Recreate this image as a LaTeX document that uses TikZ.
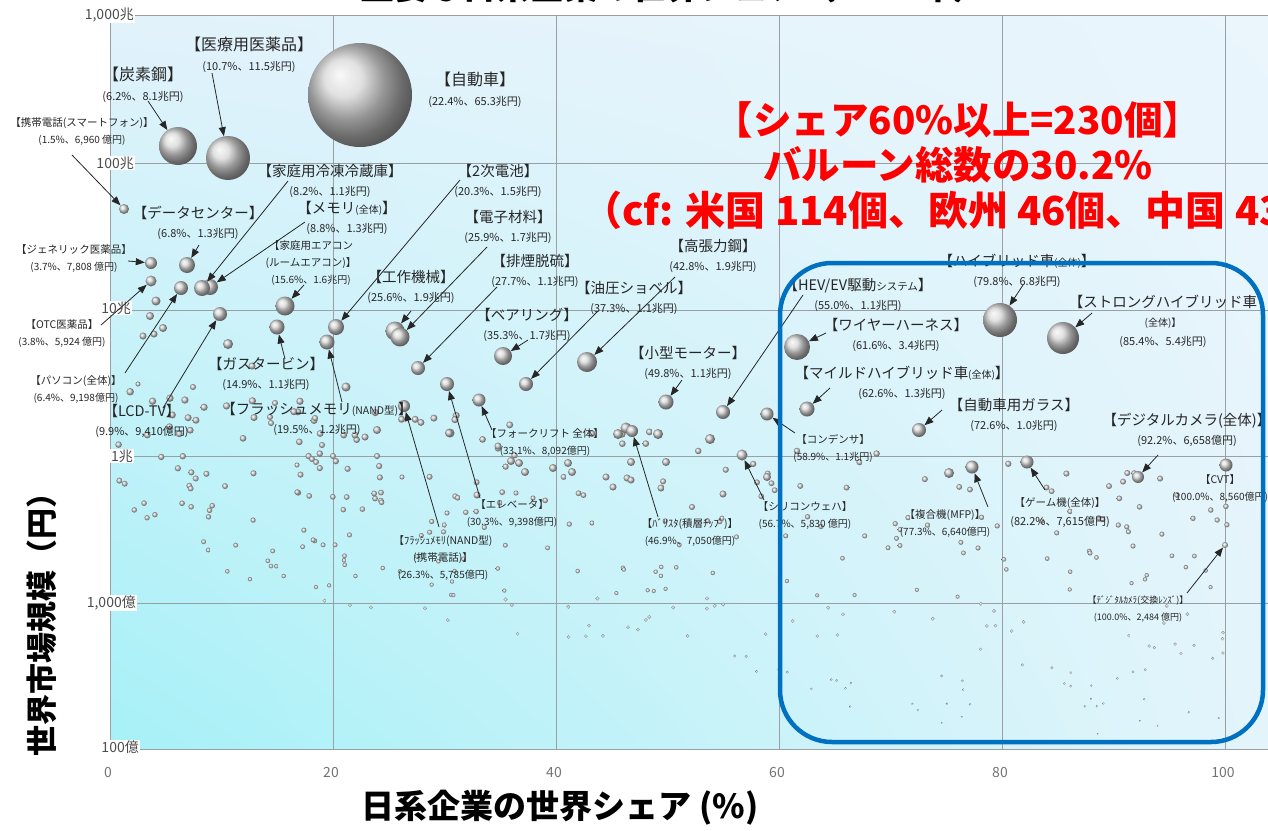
\documentclass[tikz,border=0pt]{standalone}
\usepackage{fontspec}
\setmainfont{Noto Sans CJK JP}
\usetikzlibrary{arrows.meta,shadings}
\definecolor{txt}{HTML}{262626}
\definecolor{gridc}{HTML}{9A9FA3}
\definecolor{boxblue}{HTML}{0070C0}
\definecolor{bgA}{HTML}{E2F2FB}
\definecolor{bgB}{HTML}{EAF5FC}
\definecolor{bgC}{HTML}{A6F1F7}
\definecolor{bgD}{HTML}{E4F4FB}
\newcommand\hzL{\fontsize{16}{16}\selectfont}
\newcommand\hzM{\fontsize{14.5}{14.5}\selectfont}
\newcommand\hzS{\fontsize{10.5}{10.5}\selectfont}
\newcommand\hzT{\fontsize{9}{9}\selectfont}
\newcommand\hzU{\fontsize{10}{10}\selectfont}
\newcommand\dotb[3]{\shade[ball color=gray!40] (#1,#2) circle (#3);}
\begin{document}
\begin{tikzpicture}[x=1pt,y=-1pt,
 bub/.style={circle,inner sep=0pt,shade,ball color=gray!32},
 lblL/.style={align=center,inner sep=0pt,text=txt,font=\fontsize{11}{20}\selectfont},
 lblM/.style={align=center,inner sep=0pt,text=txt,font=\fontsize{11}{19}\selectfont},
 lblS/.style={align=center,inner sep=0pt,text=txt,font=\fontsize{10}{17}\selectfont},
 arr/.style={draw=black!85,line width=0.8pt,-{Triangle[length=9pt,width=7pt]}},
 ytick/.style={anchor=east,fill=white,inner sep=1pt,text=black!70,font=\fontsize{14}{14}\selectfont},
 xtick/.style={text=black!55,font=\fontsize{14}{14}\selectfont},
 gridl/.style={draw=gridc,line width=0.8pt},
 redtxt/.style={inner sep=0pt,text=red,font=\bfseries\fontsize{38.5}{38.5}\selectfont},
 axtitle/.style={inner sep=0pt,text=black,font=\bfseries\fontsize{33}{33}\selectfont}]
\useasboundingbox (0,0) rectangle (1268,830);
\fill[white] (0,0) rectangle (1268,830);
% cut-off title
\node[inner sep=0pt,text=black,font=\bfseries\fontsize{34}{34}\selectfont] (title) at (674,-13) {主要な日系企業の世界シェア（2017年）};
% plot background
\shade[upper left=bgA,upper right=bgB,lower left=bgC,lower right=bgD] (110,15) rectangle (1268,749);
% grid
\foreach \gx in {110,333,556,779,1002,1225} \draw[gridl] (\gx,15) -- (\gx,749);
\foreach \gy in {15,163,310,456,603,749} \draw[gridl] (110,\gy) -- (1268,\gy);
% tick labels
\node[ytick] (t1) at (135,15) {1,000兆};
\node[ytick] (t2) at (135,163) {100兆};
\node[ytick] (t3) at (132,308) {10兆};
\node[ytick] (t4) at (134,456) {1兆};
\node[ytick] (t5) at (137,603) {1,000億};
\node[ytick] (t6) at (140,747) {100億};
\node[xtick] (x0) at (108,772) {0};
\node[xtick] (x1) at (331,772) {20};
\node[xtick] (x2) at (554,772) {40};
\node[xtick] (x3) at (777,772) {60};
\node[xtick] (x4) at (1000,772) {80};
\node[xtick] (x5) at (1223,772) {100};
% random small dots
\pgfmathsetseed{4242}
\foreach \i in {1,...,330}{
  \pgfmathsetmacro{\dx}{118+rnd*1110}
  \pgfmathsetmacro{\ya}{385+0.085*(\dx-110)}
  \pgfmathsetmacro{\yb}{min(738,560+0.2*(\dx-110))}
  \pgfmathsetmacro{\dy}{\ya+rnd*(\yb-\ya)}
  \pgfmathsetmacro{\dr}{0.8+(740-\dy)/120}
  \shade[ball color=gray!40] (\dx,\dy) circle (\dr);
}
% medium unlabeled dots
\dotb{156}{301}{4.5}\dotb{150}{316}{4}\dotb{163}{328}{4}\dotb{154}{334}{3.5}\dotb{143}{336}{3.5}
\dotb{228}{344}{5}\dotb{193}{387}{3}\dotb{138}{384}{2.5}\dotb{252}{366}{3.5}\dotb{346}{387}{4.5}
\dotb{450}{433}{4.5}\dotb{658}{434}{5}\dotb{710}{439}{5}\dotb{511}{461}{4}\dotb{519}{463}{4}
\dotb{525}{472}{4}\dotb{553}{468}{4}\dotb{568}{463}{4}\dotb{572}{472}{4}\dotb{631}{462}{4}
\dotb{666}{462}{4}\dotb{606}{477}{3.5}\dotb{613}{487}{3.5}\dotb{627}{478}{3.5}\dotb{631}{480}{3.5}
\dotb{661}{488}{3.5}\dotb{723}{494}{3.5}\dotb{767}{477}{4}\dotb{477}{495}{3.5}\dotb{692}{507}{3}
\dotb{949}{473}{5}\dotb{1133}{546}{2.5}\dotb{978}{548}{2.5}\dotb{1090}{553}{2.5}\dotb{377}{430}{4}
\dotb{355}{435}{3.5}\dotb{365}{437}{3.5}\dotb{270}{417}{3}\dotb{271}{423}{3}\dotb{315}{418}{3}
\dotb{275}{403}{3}\dotb{449}{433}{4}\dotb{498}{446}{3.5}\dotb{377}{456}{3}\dotb{333}{456}{3}
\dotb{322}{445}{3}\dotb{312}{459}{3}\dotb{316}{462}{3}\dotb{297}{465}{2.5}\dotb{402}{477}{2.5}
\dotb{516}{493}{2.5}\dotb{533}{498}{2.5}\dotb{447}{513}{2.5}\dotb{592}{523}{2.5}
\dotb{618}{434}{5}\dotb{626}{428}{5.5}
% labelled bubbles
\node[bub,minimum size=104pt] (bCar) at (360,95) {};
\node[bub,minimum size=44pt] (bIR) at (228,158) {};
\node[bub,minimum size=38pt] (bCS) at (178,146) {};
\node[bub,minimum size=10pt] (bPh) at (124,209) {};
\node[bub,minimum size=16pt] (bDC) at (187,265) {};
\node[bub,minimum size=12pt] (bGen) at (151,263) {};
\node[bub,minimum size=11pt] (bOTC) at (151,281) {};
\node[bub,minimum size=14pt] (bPC) at (181,288) {};
\node[bub,minimum size=16pt] (bMem) at (210,287) {};
\node[bub,minimum size=16pt] (bFr) at (202,288) {};
\node[bub,minimum size=14pt] (bLCD) at (220,314) {};
\node[bub,minimum size=19pt] (bAC) at (285,306) {};
\node[bub,minimum size=15pt] (bGT) at (277,327) {};
\node[bub,minimum size=16pt] (bBat) at (336,327) {};
\node[bub,minimum size=15pt] (bFM) at (327,342) {};
\node[bub,minimum size=19pt] (bKK) at (395,331) {};
\node[bub,minimum size=19pt] (bEM) at (400,337) {};
\node[bub,minimum size=14pt] (bHD) at (418,368) {};
\node[bub,minimum size=18pt] (bBR) at (503,356) {};
\node[bub,minimum size=14pt] (bYS) at (526,384) {};
\node[bub,minimum size=20pt] (bKC) at (587,362) {};
\node[bub,minimum size=15pt] (bMM) at (666,402) {};
\node[bub,minimum size=14pt] (bHEV) at (723,412) {};
\node[bub,minimum size=26pt] (bWH) at (797,347) {};
\node[bub,minimum size=15pt] (bMH) at (807,409) {};
\node[bub,minimum size=14pt] (bGL) at (919,430) {};
\node[bub,minimum size=34pt] (bHV) at (1000,320) {};
\node[bub,minimum size=32pt] (bSH) at (1063,338) {};
\node[bub,minimum size=13pt] (bCD) at (767,414) {};
\node[bub,minimum size=12pt] (bDCam) at (1138,477) {};
\node[bub,minimum size=13pt] (bCVT) at (1226,465) {};
\node[bub,minimum size=13pt] (bGM) at (1027,462) {};
\node[bub,minimum size=13pt] (bMFP) at (972,467) {};
\node[bub,minimum size=11pt] (bSW) at (742,455) {};
\node[bub,minimum size=12pt] (bVR) at (632,431) {};
\node[bub,minimum size=13pt] (bFL) at (479,400) {};
\node[bub,minimum size=14pt] (bEV) at (447,384) {};
\node[bub,minimum size=12pt] (bFMP) at (404,406) {};
\node[bub,minimum size=6pt] (bLens) at (1225,545) {};
% labels
\node[lblL] (lCS) at (143,85) {{\hzL【炭素鋼】}\\(6.2\%、8.1兆円)};
\node[lblL] (lIR) at (249,55) {{\hzL【医療用医薬品】}\\(10.7\%、11.5兆円)};
\node[lblL] (lCar) at (475,90) {{\hzL【自動車】}\\(22.4\%、65.3兆円)};
\node[lblS] (lPh) at (82,132) {{\hzS【携帯電話(スマートフォン)】}\\(1.5\%、6,960 億円)};
\node[lblM] (lFr) at (330,181) {{\hzM【家庭用冷凍冷蔵庫】}\\(8.2\%、1.1兆円)};
\node[lblM] (lBat) at (498,181) {{\hzM【2次電池】}\\(20.3\%、1.5兆円)};
\node[lblM] (lDC) at (198,223) {{\hzM【データセンター】}\\(6.8\%、1.3兆円)};
\node[lblM] (lMem) at (347,218) {{\hzM【メモリ{\hzU(全体)}】}\\(8.8\%、1.3兆円)};
\node[lblM] (lEM) at (508,227) {{\hzM【電子材料】}\\(25.9\%、1.7兆円)};
\node[lblS] (lGen) at (74,259) {{\hzS【ジェネリック医薬品】}\\(3.7\%、7,808 億円)};
\node[lblS] (lAC) at (311,263) {{\hzS【家庭用エアコン}\\{\hzS(ルームエアコン)】}\\(15.6\%、1.6兆円)};
\node[lblM] (lKC) at (713,256) {{\hzM【高張力鋼】}\\(42.8\%、1.9兆円)};
\node[lblM] (lHD) at (535,271) {{\hzM【排煙脱硫】}\\(27.7\%、1.1兆円)};
\node[lblM] (lKK) at (411,287) {{\hzM【工作機械】}\\(25.6\%、1.9兆円)};
\node[lblM] (lYS) at (634,298) {{\hzM【油圧ショベル】}\\(37.3\%、1.1兆円)};
\node[lblS] (lOTC) at (62,334) {{\hzS【OTC医薬品】}\\(3.8\%、5,924 億円)};
\node[lblM] (lBR) at (527,325) {{\hzM【ベアリング】}\\(35.3\%、1.7兆円)};
\node[lblM] (lMM) at (688,363) {{\hzM【小型モーター】}\\(49.8\%、1.1兆円)};
\node[lblM] (lGT) at (266,374) {{\hzM【ガスタービン】}\\(14.9\%、1.1兆円)};
\node[lblS] (lPC) at (76,390) {{\hzS【パソコン(全体)】}\\(6.4\%、9,198億円)};
\node[lblM] (lLCD) at (142,421) {{\hzM【LCD-TV】}\\(9.9\%、9,410億円)};
\node[lblM] (lFM) at (317,419) {{\hzM【フラッシュメモリ{\hzS(NAND型)}】}\\(19.5\%、1.2兆円)};
\node[lblS] (lFL) at (545,443) {{\hzS【フォークリフト 全体】}\\(33.1\%、8,092億円)};
\node[lblS] (lEV) at (512,514) {{\hzS【エレベータ】}\\(30.3\%、9,398億円)};
\node[lblS] (lVR) at (690,532) {{\hzS【ﾊﾞﾘｽﾀ(積層ﾁｯﾌﾟ)】}\\(46.9\%、7,050億円)};
\node[lblS] (lFMP) at (443,558) {{\hzS【ﾌﾗｯｼｭﾒﾓﾘ(NAND型)}\\{\hzS(携帯電話)】}\\(26.3\%、5,785億円)};
\node[lblS] (lSW) at (805,516) {{\hzS【シリコンウェハ】}\\(56.7\%、5,830 億円)};
\node[lblM] (lHEV) at (858,295) {{\hzM【HEV/EV駆動{\hzS システム}】}\\(55.0\%、1.1兆円)};
\node[lblM] (lWH) at (896,335) {{\hzM【ワイヤーハーネス】}\\(61.6\%、3.4兆円)};
\node[lblM] (lHV) at (1017,271) {{\hzM【ハイブリッド車{\hzU(全体)}】}\\(79.8\%、6.8兆円)};
\node[lblM] (lSH) at (1163,321) {{\hzM【ストロングハイブリッド車}\\{\hzU(全体)】}\\(85.4\%、5.4兆円)};
\node[lblM] (lMH) at (902,383) {{\hzM【マイルドハイブリッド車{\hzU(全体)}】}\\(62.6\%、1.3兆円)};
\node[lblM] (lGL) at (1014,415) {{\hzM【自動車用ガラス】}\\(72.6\%、1.0兆円)};
\node[lblS] (lCD) at (833,448) {{\hzS【コンデンサ】}\\(58.9\%、1.1兆円)};
\node[lblM] (lDCam) at (1187,430) {{\hzM【デジタルカメラ(全体)】}\\(92.2\%、6,658億円)};
\node[lblS] (lCVT) at (1220,489) {{\hzS【CVT】}\\(100.0\%、8,560億円)};
\node[lblS] (lMFP) at (945,524) {{\hzS【複合機(MFP)】}\\(77.3\%、6,640億円)};
\node[lblM] (lGM) at (1060,513) {{\hzS【ゲーム機(全体)】}\\(82.2\%、7,615億円)};
\node[lblS] (lLens) at (1138,609) {{\hzT【ﾃﾞｼﾞﾀﾙｶﾒﾗ(交換ﾚﾝｽﾞ)】}\\{\hzT(100.0\%、2,484 億円)}};
% arrow tails
\coordinate (aCS) at (148,101);
\coordinate (aIR) at (212,73);
\coordinate (aPh) at (72,155);
\coordinate (aFr) at (288,181);
\coordinate (aMem) at (305,222);
\coordinate (aDC) at (199,245);
\coordinate (aGen) at (128,261);
\coordinate (aOTC) at (101,325);
\coordinate (aPC) at (125,373);
\coordinate (aLCD) at (163,408);
\coordinate (aAC) at (304,285);
\coordinate (aGT) at (285,359);
\coordinate (aBat) at (460,180);
\coordinate (aFM) at (342,402);
\coordinate (aKK) at (411,311);
\coordinate (aEM) at (487,247);
\coordinate (aHD) at (497,287);
\coordinate (aBR) at (528,340);
\coordinate (aYS) at (597,312);
\coordinate (aKC) at (675,277);
\coordinate (aMM) at (682,380);
\coordinate (aHEV) at (803,295);
\coordinate (aWH) at (826,333);
\coordinate (aMH) at (830,388);
\coordinate (aGL) at (942,410);
\coordinate (aHV) at (1023,285);
\coordinate (aSH) at (1092,313);
\coordinate (aCD) at (795,433);
\coordinate (aDCam) at (1158,455);
\coordinate (aGM) at (1045,490);
\coordinate (aMFP) at (988,507);
\coordinate (aSW) at (764,500);
\coordinate (aVR) at (658,517);
\coordinate (aFL) at (492,430);
\coordinate (aEV) at (480,498);
\coordinate (aFMP) at (439,527);
\coordinate (aLens) at (1187,593);
\foreach \a/\b in {aCS/bCS,aIR/bIR,aPh/bPh,aFr/bFr,aMem/bMem,aDC/bDC,aGen/bGen,aOTC/bOTC,aPC/bPC,aLCD/bLCD,aAC/bAC,aGT/bGT,aBat/bBat,aFM/bFM,aKK/bKK,aEM/bEM,aHD/bHD,aBR/bBR,aYS/bYS,aKC/bKC,aMM/bMM,aHEV/bHEV,aWH/bWH,aMH/bMH,aGL/bGL,aHV/bHV,aSH/bSH,aCD/bCD,aDCam/bDCam,aGM/bGM,aMFP/bMFP,aSW/bSW,aVR/bVR,aFL/bFL,aEV/bEV,aFMP/bFMP,aLens/bLens}
  \draw[arr] (\a) -- (\b);
% blue frame
\draw[boxblue,line width=4.5pt,rounded corners=52pt] (780,263) rectangle (1263,742);
% red text
\node[redtxt] (r1) at (958,120) {【シェア60\%以上=230個】};
\node[redtxt] (r2) at (958,165) {バルーン総数の30.2\%};
\node[redtxt,anchor=west,font=\bfseries\fontsize{40}{40}\selectfont] (r3) at (582,210) {（cf: 米国 114個、欧州 46個、中国 43};
% axis titles
\node[axtitle] (xt) at (560,808) {日系企業の世界シェア (\%)};
\node[axtitle,rotate=90,font=\bfseries\fontsize{31}{31}\selectfont] (yt) at (42,617) {世界市場規模（円）};
\end{tikzpicture}
\end{document}
